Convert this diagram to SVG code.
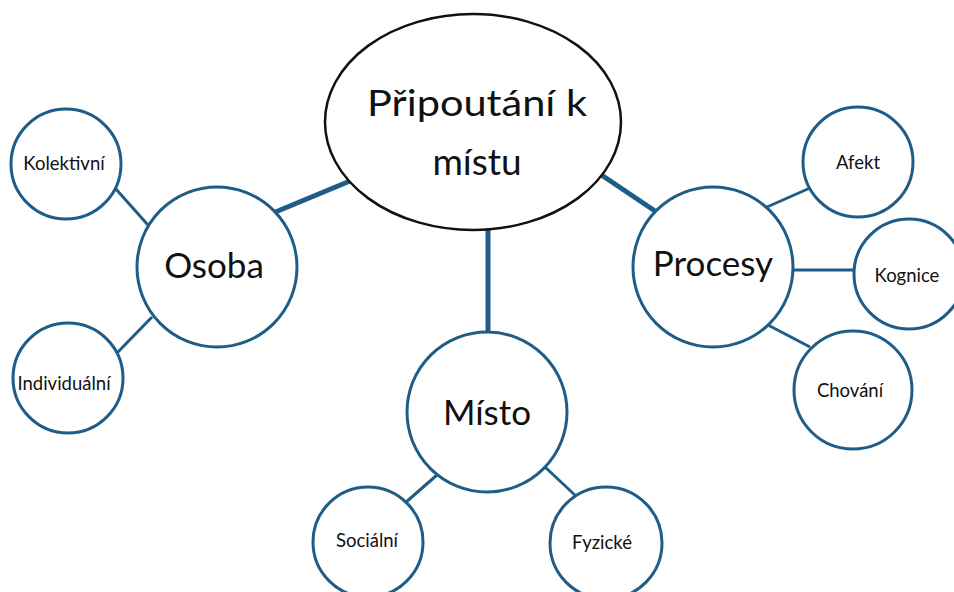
<svg xmlns="http://www.w3.org/2000/svg" width="954" height="592" viewBox="0 0 954 592">
<style>
.c{fill:#fff;stroke:#1f5d88;stroke-width:3}
.e{fill:#fff;stroke:#111;stroke-width:2.5}
.thick{stroke:#1f5d88;stroke-width:5;fill:none}
.thin{stroke:#1f5d88;stroke-width:3;fill:none}
text{font-family:Lato,"Open Sans","Noto Sans",sans-serif;fill:#111;text-anchor:middle}
.big{font-size:37px}
.mid{font-size:35px}
.sm{font-size:18.5px}
</style>
<rect width="954" height="592" fill="#fff"/>
<g id="connectors">
<line class="thick" x1="350" y1="181" x2="273" y2="213"/>
<line class="thick" x1="600" y1="174" x2="655" y2="211"/>
<line class="thick" x1="488" y1="228" x2="488" y2="333"/>
<line class="thin" x1="115" y1="188" x2="148" y2="225"/>
<line class="thin" x1="117" y1="353" x2="152" y2="317"/>
<line class="thin" x1="767" y1="207" x2="810" y2="188"/>
<line class="thin" x1="793" y1="270" x2="855" y2="270"/>
<line class="thin" x1="768" y1="325" x2="810" y2="347"/>
<line class="thin" x1="437" y1="475" x2="405" y2="503"/>
<line class="thin" x1="545" y1="467" x2="577" y2="497"/>
</g>
<g id="center">
<ellipse class="e" cx="473" cy="122" rx="148" ry="108"/>
<text class="big" x="477" y="116" textLength="220" lengthAdjust="spacingAndGlyphs">Připoutání k</text>
<text class="big" x="477" y="175">místu</text>
</g>
<g id="osoba">
<circle class="c" cx="217" cy="267" r="80"/>
<text class="mid" x="214" y="278">Osoba</text>
</g>
<g id="kolektivni">
<circle class="c" cx="66" cy="164" r="55"/>
<text class="sm" x="64" y="170">Kolektivní</text>
</g>
<g id="individualni">
<circle class="c" cx="68" cy="378" r="55"/>
<text class="sm" x="64" y="390">Individuální</text>
</g>
<g id="misto">
<circle class="c" cx="487" cy="412" r="80"/>
<text class="mid" x="487" y="425">Místo</text>
</g>
<g id="socialni">
<circle class="c" cx="368" cy="542" r="55"/>
<text class="sm" x="367" y="547">Sociální</text>
</g>
<g id="fyzicke">
<circle class="c" cx="606" cy="543" r="56"/>
<text class="sm" x="602" y="549">Fyzické</text>
</g>
<g id="procesy">
<circle class="c" cx="713" cy="267" r="80"/>
<text class="mid" x="713" y="276">Procesy</text>
</g>
<g id="afekt">
<circle class="c" cx="858" cy="162" r="55"/>
<text class="sm" x="858" y="169">Afekt</text>
</g>
<g id="kognice">
<circle class="c" cx="909" cy="274" r="55"/>
<text class="sm" x="907" y="282">Kognice</text>
</g>
<g id="chovani">
<circle class="c" cx="853" cy="390" r="59"/>
<text class="sm" x="850" y="397">Chování</text>
</g>
</svg>
